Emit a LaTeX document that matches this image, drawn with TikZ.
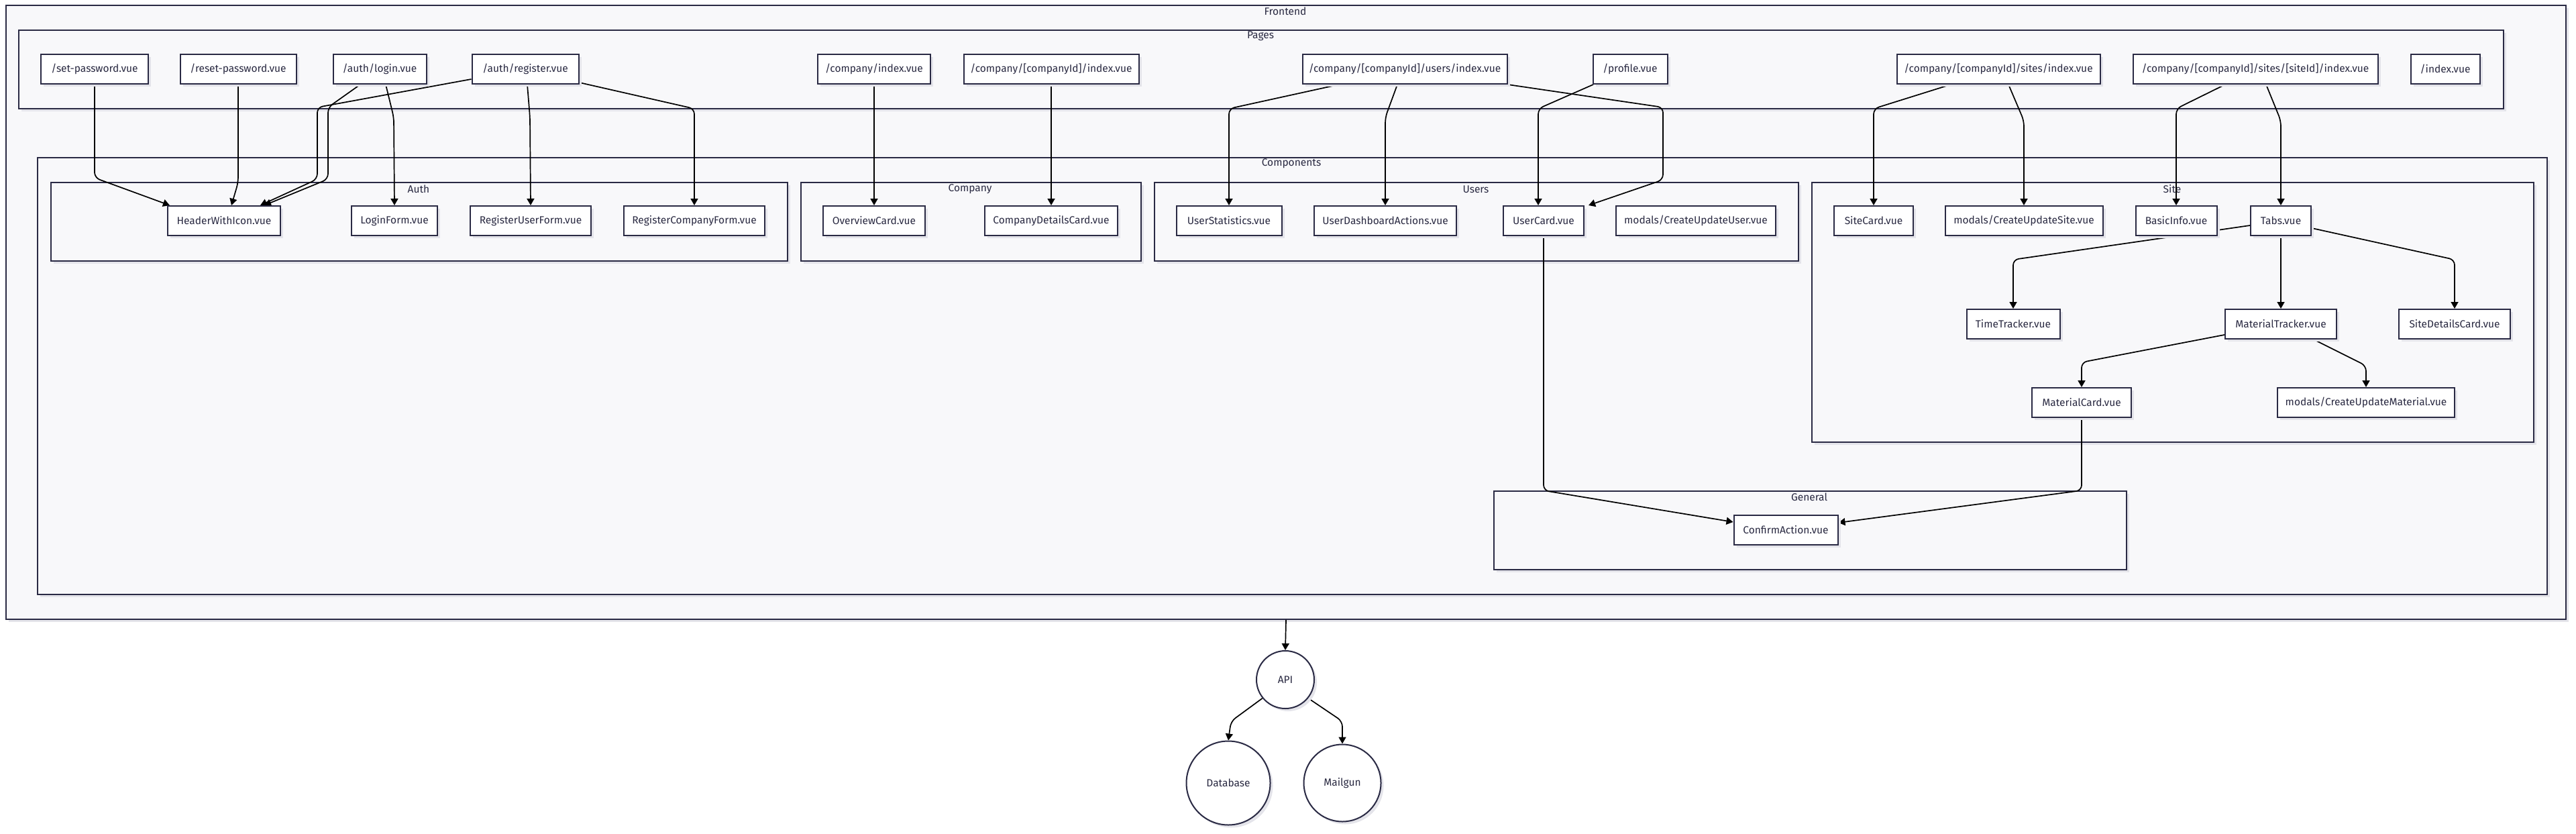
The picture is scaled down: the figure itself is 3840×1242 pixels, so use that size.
\documentclass[tikz,border=0pt]{standalone}
\usepackage{fontspec}
\setmainfont{Fira Sans}
\usetikzlibrary{arrows.meta,shadows,calc}
\pgfdeclarelayer{bg}
\pgfdeclarelayer{edgel}
\pgfsetlayers{bg,edgel,main}
\definecolor{bordc}{HTML}{2A2A44}
\definecolor{txtc}{HTML}{2A2A42}
\definecolor{clfill}{HTML}{F8F8FA}
\definecolor{shc}{HTML}{E4E4EA}
\begin{document}
\begin{tikzpicture}[x=1pt,y=-1pt,
  shad/.style={drop shadow={shadow xshift=4pt,shadow yshift=-4pt,fill=shc,opacity=1}},
  box/.style={shad,draw=bordc,line width=2pt,fill=white,minimum height=44pt,inner sep=0pt,
    text=txtc,font=\fontsize{15.5}{18}\selectfont},
  cluster/.style={shad,draw=bordc,line width=2pt,fill=clfill,anchor=north west,inner sep=0pt},
  clabel/.style={text=txtc,font=\fontsize{15.5}{18}\selectfont,inner sep=0pt},
  circ/.style={shad,circle,draw=bordc,line width=2pt,fill=white,inner sep=0pt,
    text=txtc,font=\fontsize{15.5}{18}\selectfont},
  edge/.style={draw=black,line width=1.7pt,rounded corners=8pt,-{Triangle[length=10pt,width=11pt]}}
]
\useasboundingbox (0,0) rectangle (3840,1242);

% ---------- clusters ----------
\begin{pgfonlayer}{bg}
\fill[white] (0,0) rectangle (3840,1242);
\node[cluster,minimum width=3816pt,minimum height=915pt] (fe) at (8,7) {};
\node[cluster,minimum width=3704pt,minimum height=117pt] (pages) at (27,44) {};
\node[cluster,minimum width=3741pt,minimum height=651pt] (comp) at (55,234) {};
\node[cluster,minimum width=1098pt,minimum height=117pt] (auth) at (75,271) {};
\node[cluster,minimum width=507pt,minimum height=117pt] (company) at (1193,271) {};
\node[cluster,minimum width=960pt,minimum height=117pt] (users) at (1720,271) {};
\node[cluster,minimum width=1076pt,minimum height=387pt] (site) at (2700,271) {};
\node[cluster,minimum width=943pt,minimum height=117pt] (general) at (2226,731) {};
\node[clabel] (lfe) at (1916,17) {Frontend};
\node[clabel] (lpages) at (1879,54) {Pages};
\node[clabel] (lcomp) at (1925,244) {Components};
\node[clabel] (lauth) at (624,282) {Auth};
\node[clabel] (lcompany) at (1446,282) {Company};
\node[clabel] (lusers) at (2200,282) {Users};
\node[clabel] (lsite) at (3238,282) {Site};
\node[clabel] (lgeneral) at (2697,741) {General};
\end{pgfonlayer}

% ---------- pages ----------
\node[box,minimum width=160pt] (sp) at (141,103) {/set-password.vue};
\node[box,minimum width=173pt] (rp) at (355,103) {/reset-password.vue};
\node[box,minimum width=139pt] (al) at (566,103) {/auth/login.vue};
\node[box,minimum width=159pt] (ar) at (783,103) {/auth/register.vue};
\node[box,minimum width=168pt] (ci) at (1303,103) {/company/index.vue};
\node[box,minimum width=261pt] (cci) at (1567,103) {/company/[companyId]/index.vue};
\node[box,minimum width=305pt] (cui) at (2094,103) {/company/[companyId]/users/index.vue};
\node[box,minimum width=111pt] (pr) at (2430,103) {/profile.vue};
\node[box,minimum width=303pt] (csi) at (2979,103) {/company/[companyId]/sites/index.vue};
\node[box,minimum width=365pt] (csid) at (3362,103) {/company/[companyId]/sites/[siteId]/index.vue};
\node[box,minimum width=103pt] (idx) at (3645,103) {/index.vue};

% ---------- components ----------
\node[box,minimum width=168pt] (hwi) at (334,329) {HeaderWithIcon.vue};
\node[box,minimum width=128pt] (lf) at (588,329) {LoginForm.vue};
\node[box,minimum width=180pt] (ruf) at (791,329) {RegisterUserForm.vue};
\node[box,minimum width=210pt] (rcf) at (1035,329) {RegisterCompanyForm.vue};
\node[box,minimum width=152pt] (oc) at (1303,329) {OverviewCard.vue};
\node[box,minimum width=198pt] (cdc) at (1567,329) {CompanyDetailsCard.vue};
\node[box,minimum width=157pt] (us) at (1832,329) {UserStatistics.vue};
\node[box,minimum width=212pt] (uda) at (2065,329) {UserDashboardActions.vue};
\node[box,minimum width=120pt] (uc) at (2301,329) {UserCard.vue};
\node[box,minimum width=238pt] (cuu) at (2528,329) {modals/CreateUpdateUser.vue};
\node[box,minimum width=118pt] (sc) at (2793,329) {SiteCard.vue};
\node[box,minimum width=235pt] (cus) at (3017,329) {modals/CreateUpdateSite.vue};
\node[box,minimum width=121pt] (bi) at (3244,329) {BasicInfo.vue};
\node[box,minimum width=90pt] (tabs) at (3400,329) {Tabs.vue};
\node[box,minimum width=139pt] (tt) at (3001,483) {TimeTracker.vue};
\node[box,minimum width=166pt] (mt) at (3400,483) {MaterialTracker.vue};
\node[box,minimum width=166pt] (sdc) at (3659,483) {SiteDetailsCard.vue};
\node[box,minimum width=148pt] (mc) at (3103,600) {MaterialCard.vue};
\node[box,minimum width=264pt] (cum) at (3527,600) {modals/CreateUpdateMaterial.vue};
\node[box,minimum width=155pt] (ca) at (2662,790) {ConfirmAction.vue};

% ---------- backend ----------
\node[circ,minimum size=86pt] (api) at (1916,1013) {API};
\node[circ,minimum size=125pt] (db) at (1831,1167) {Database};
\node[circ,minimum size=115pt] (mg) at (2001,1167) {Mailgun};

% ---------- edges ----------
\begin{pgfonlayer}{edgel}
\draw[edge] (sp.south) -- (141,265) -- ([xshift=-81pt]hwi.north);
\draw[edge] (rp.south) -- (355,272) -- ([xshift=11pt]hwi.north);
\draw[edge] ([xshift=-29pt]al.south) -- (489,160) -- (489,267) -- ([xshift=60pt]hwi.north);
\draw[edge] ([xshift=9pt]al.south) -- (587,175) -- (lf.north);
\draw[edge] ([yshift=8pt]ar.south west) -- (473,160) -- (473,267) -- ([xshift=54pt]hwi.north);
\draw[edge] ([xshift=3pt]ar.south) -- (790,175) -- (ruf.north);
\draw[edge] ([yshift=3pt]ar.south east) -- (1035,162) -- (rcf.north);
\draw[edge] (ci.south) -- (oc.north);
\draw[edge] (cci.south) -- (cdc.north);
\draw[edge] ([xshift=-98pt]cui.south) -- (1832,162) -- (us.north);
\draw[edge] ([xshift=-11pt]cui.south) -- (2065,175) -- (uda.north);
\draw[edge] (cui.south east) -- (2479,160) -- (2479,268) -- ([xshift=6pt]uc.north east);
\draw[edge] ([xshift=-55pt]pr.south) -- (2293,162) -- ([xshift=-8pt]uc.north);
\draw[edge] ([xshift=-71pt]csi.south) -- (2793,162) -- (sc.north);
\draw[edge] ([xshift=15pt]csi.south) -- (3017,180) -- (cus.north);
\draw[edge] ([xshift=-45pt]csid.south) -- (3244,162) -- (bi.north);
\draw[edge] ([xshift=16pt]csid.south) -- (3400,180) -- (tabs.north);
\draw[edge] ([yshift=-7pt]tabs.west) -- (3001,387) -- (tt.north);
\draw[edge] (tabs.south) -- (mt.north);
\draw[edge] ([yshift=-11pt]tabs.east) -- (3659,387) -- (sdc.north);
\draw[edge] ([yshift=-16pt]mt.west) -- (3103,540) -- (mc.north);
\draw[edge] ([xshift=49pt]mt.south) -- (3527,545) -- (cum.north);
\draw[edge] (uc.south) -- (2301,731) -- ([yshift=12pt]ca.west);
\draw[edge] (mc.south) -- (3103,731) -- ([yshift=11pt]ca.east);
\draw[edge] (fe.south) -- (api.north);
\draw[edge] (api.219) -- (1835,1075) -- (db.north);
\draw[edge] (api.-39) -- (2001,1075) -- (mg.north);
\end{pgfonlayer}
\end{tikzpicture}
\end{document}
